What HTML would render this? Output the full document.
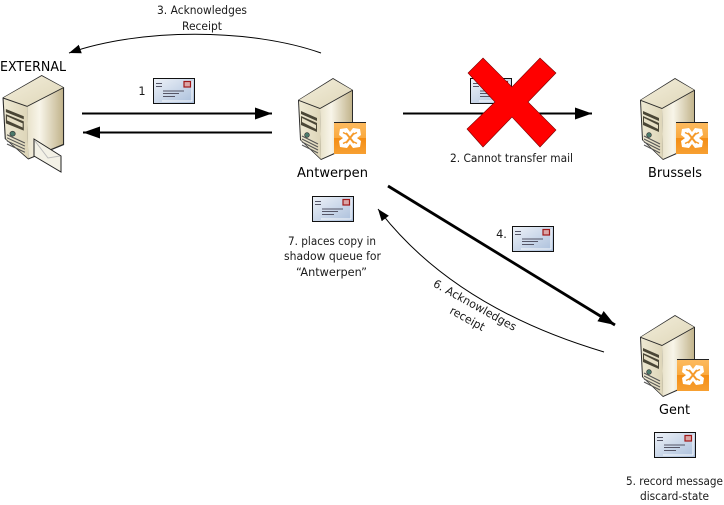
<!DOCTYPE html>
<html><head><meta charset="utf-8"><style>
html,body{margin:0;padding:0;background:#fff}
svg{display:block}
text{font-family:"DejaVu Sans","Liberation Sans",sans-serif;font-size:11.3px;fill:#1a1a1a;text-anchor:middle}
.l{font-size:13px;fill:#000}
</style></head><body>
<svg width="724" height="505" viewBox="0 0 724 505" xmlns="http://www.w3.org/2000/svg">
<defs>
<linearGradient id="top" x1="0" y1="0" x2="1" y2="1"><stop offset="0" stop-color="#f3eedb"/><stop offset="1" stop-color="#ded6b8"/></linearGradient>
<linearGradient id="fr" x1="0" y1="0" x2="1" y2="0"><stop offset="0" stop-color="#eee9d3"/><stop offset="1" stop-color="#ddd5b8"/></linearGradient>
<linearGradient id="rt" x1="0" y1="0" x2="1" y2="0"><stop offset="0" stop-color="#e8e2ca"/><stop offset="0.35" stop-color="#f8f5e9"/><stop offset="1" stop-color="#c2b48c"/></linearGradient>
<linearGradient id="env" x1="0" y1="0" x2="1" y2="1"><stop offset="0" stop-color="#eef2f8"/><stop offset="1" stop-color="#a9bedb"/></linearGradient>
<linearGradient id="org" x1="0" y1="0" x2="0" y2="1"><stop offset="0" stop-color="#fcbb60"/><stop offset="0.5" stop-color="#faa93f"/><stop offset="0.5" stop-color="#f48d14"/><stop offset="1" stop-color="#f7a032"/></linearGradient>
<g id="srv">
<path d="M35 0L55 12V68L23 82L2 62L0 22Z" fill="#2a2a2a"/>
<path d="M35 1L54 12L22 30L1 22Z" fill="url(#top)"/>
<path d="M1 23L22 31L23 81L3 62Z" fill="url(#fr)"/>
<path d="M22 31L54 13V67L23 81Z" fill="url(#rt)"/>
<path d="M3 33L19 40V43L3 36ZM3 38L19 45V54L3 47Z" fill="#4a4636"/>
<path d="M4 40L18 47V51L4 44Z" fill="#e6dfc5"/>
<circle cx="9" cy="57" r="2.4" fill="#4c7a6c" stroke="#333" stroke-width=".6"/>
<path d="M4 61L20 69M4 64L20 72M4 67L20 75M4 58L20 66" stroke="#555" stroke-width="1" fill="none"/>
</g>
<g id="badge">
<rect x="0" y="0" width="32" height="32" fill="url(#org)"/>
<path d="M0 .5H32" stroke="#222" stroke-width="1"/>
<path d="M6 7L13 6L16 10L19 6L26 7L27 13L23 16L27 19L26 25L19 26L16 22L13 26L6 25L5 19L9 16L5 13Z" fill="#fff"/>
<path d="M12 11L20 21M20 11L12 21" stroke="#f59a2a" stroke-width="2"/>
<path d="M9 10.500L12 12M23 10.500L20 12M9 21.500L12 20M23 21.500L20 20" stroke="#f59a2a" stroke-width="1.500"/>
</g>
<g id="mail">
<rect x=".5" y=".5" width="41" height="25" fill="url(#env)" stroke="#111"/>
<path d="M9 23H39V3" fill="none" stroke="#fff" stroke-width="1" opacity=".9"/>
<rect x="31" y="3.500" width="6.500" height="5.500" fill="#dba5a5" stroke="#a01818" stroke-width="1.200"/>
<path d="M3 5.500H9M3 8.500H9M10 13H31M10 15.500H26M10 18.500H22" stroke="#556" stroke-width="1" fill="none"/>
</g>
<marker id="am" markerUnits="userSpaceOnUse" markerWidth="18" markerHeight="13" refX="17" refY="6" orient="auto"><path d="M0 0L17 6L0 12Z" fill="#000"/></marker>
<marker id="as" markerUnits="userSpaceOnUse" markerWidth="13" markerHeight="10" refX="12" refY="4.500" orient="auto"><path d="M0 0L12 4.500L0 9Z" fill="#000"/></marker>
</defs>

<!-- External -->
<g transform="translate(2.500,75) scale(1.120,1.030)"><use href="#srv"/></g>
<path d="M34 139L61 156V172L34 156Z" fill="#f3f1e6" stroke="#222" stroke-width="1"/>
<path d="M35 141L48 158L60 156" fill="none" stroke="#bbb" stroke-width="1"/>
<text class="l" x="33" y="71" textLength="66" lengthAdjust="spacingAndGlyphs">EXTERNAL</text>

<!-- Servers -->
<use href="#srv" x="298" y="78"/><use href="#badge" x="334" y="122"/>
<use href="#srv" x="640" y="78"/><use href="#badge" x="676" y="122"/>
<use href="#srv" x="640" y="315"/><use href="#badge" x="677" y="359"/>
<text class="l" x="332.500" y="177" textLength="71" lengthAdjust="spacingAndGlyphs">Antwerpen</text>
<text class="l" x="675" y="177" textLength="54" lengthAdjust="spacingAndGlyphs">Brussels</text>
<text class="l" x="674.500" y="414" textLength="31" lengthAdjust="spacingAndGlyphs">Gent</text>

<!-- Mail -->
<use href="#mail" x="153" y="78"/>
<use href="#mail" x="470" y="78"/>
<use href="#mail" x="312" y="196"/>
<use href="#mail" x="512" y="226"/>
<use href="#mail" x="654" y="432"/>

<!-- Connectors -->
<g fill="none" stroke="#000">
<path d="M82 113.500H272" stroke-width="2" marker-end="url(#am)"/>
<path d="M272 132.500H83" stroke-width="2" marker-end="url(#am)"/>
<path d="M403 113.500H592" stroke-width="2" marker-end="url(#am)"/>
<path d="M388 186L615 325" stroke-width="2.800" marker-end="url(#am)"/>
<path d="M321 53C250 28 140 28 69 53" stroke-width="1" marker-end="url(#as)"/>
<path d="M604 352C530 330 440 290 378 209" stroke-width="1" marker-end="url(#as)"/>
</g>

<!-- Red X -->
<path d="M483 58L512 87L540 58L556 73L528 102L556 130L540 147L512 117L483 147L467 129L495 102L468 73Z" fill="#f00" stroke="#700" stroke-width=".6"/>

<!-- Labels -->
<text x="202" y="14" textLength="90" lengthAdjust="spacingAndGlyphs">3. Acknowledges</text>
<text x="202" y="30" textLength="40" lengthAdjust="spacingAndGlyphs">Receipt</text>
<text x="142" y="95">1</text>
<text x="511.500" y="162" textLength="123" lengthAdjust="spacingAndGlyphs">2. Cannot transfer mail</text>
<text x="501.500" y="238">4.</text>
<text x="332" y="245" textLength="88" lengthAdjust="spacingAndGlyphs">7. places copy in</text>
<text x="332.500" y="260" textLength="97" lengthAdjust="spacingAndGlyphs">shadow queue for</text>
<text x="331.500" y="276" textLength="71" lengthAdjust="spacingAndGlyphs">“Antwerpen”</text>
<g transform="translate(475,305) rotate(29)">
<text x="0" y="4" textLength="93" lengthAdjust="spacingAndGlyphs">6. Acknowledges</text>
<text x="0" y="19.500" textLength="38" lengthAdjust="spacingAndGlyphs">receipt</text>
</g>
<text x="674.500" y="485" textLength="97" lengthAdjust="spacingAndGlyphs">5. record message</text>
<text x="674.500" y="500" textLength="69" lengthAdjust="spacingAndGlyphs">discard-state</text>
</svg>
</body></html>
